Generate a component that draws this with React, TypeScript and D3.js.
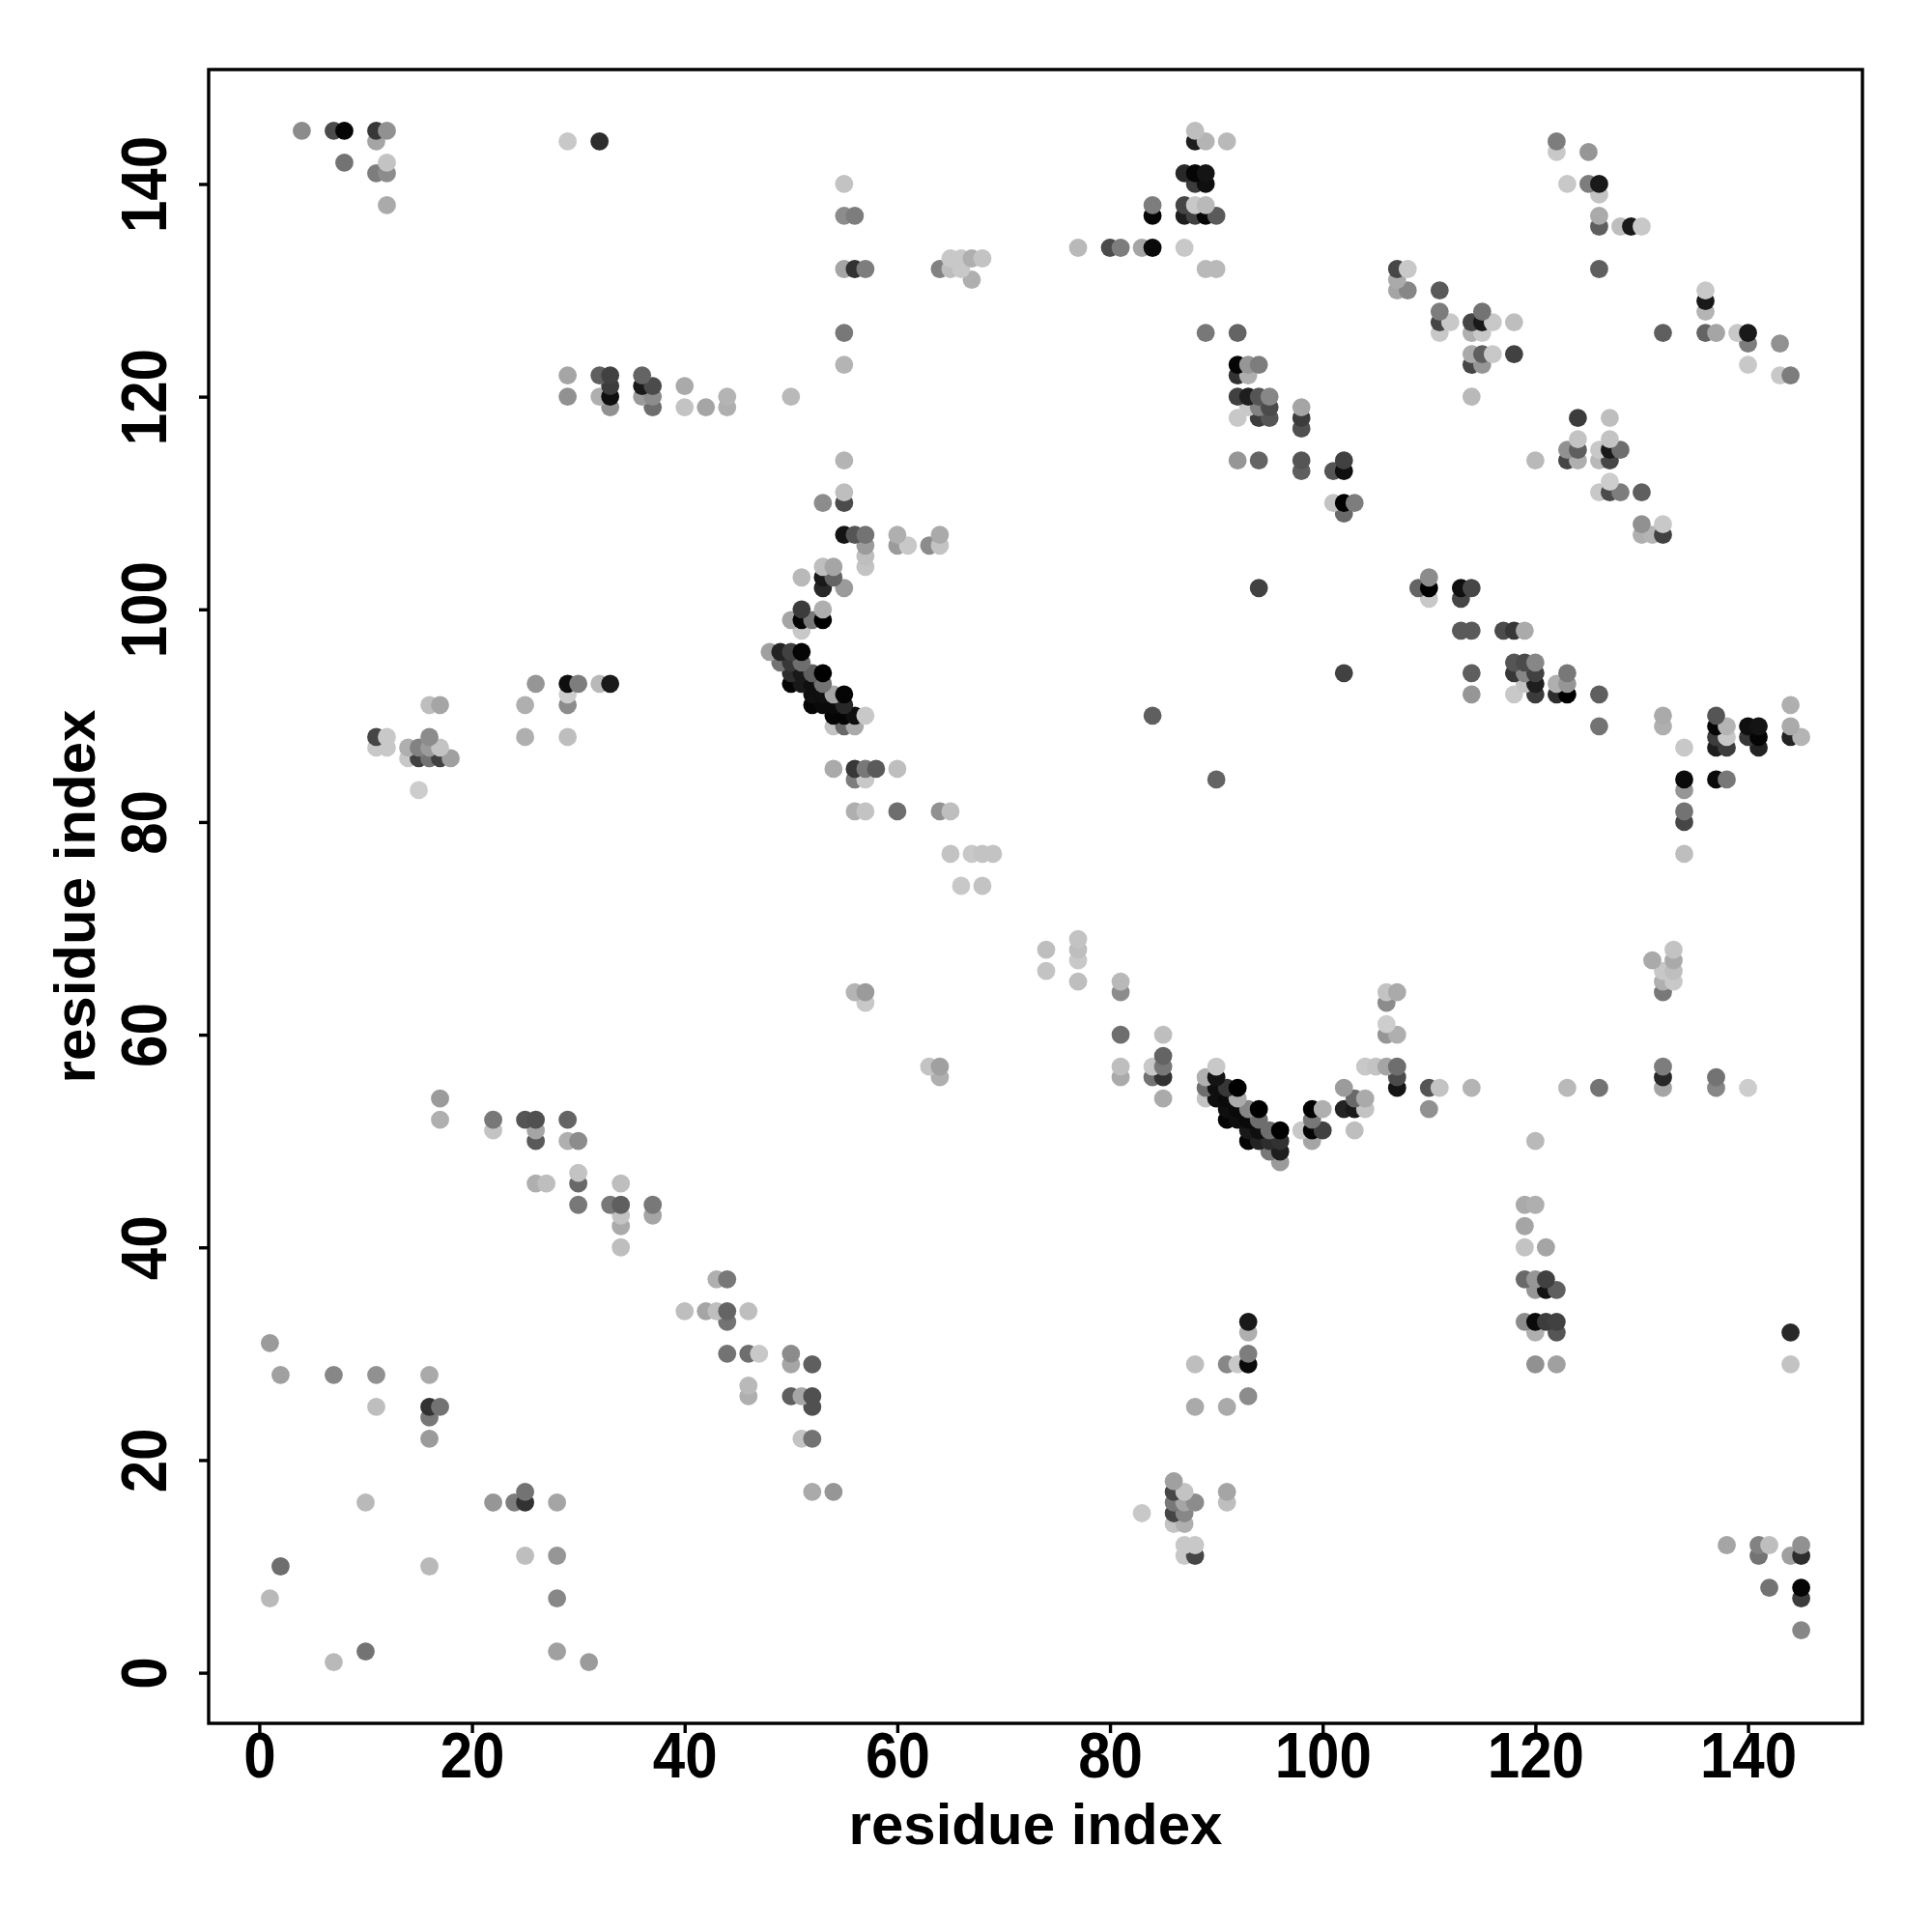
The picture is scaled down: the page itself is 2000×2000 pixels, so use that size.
import React, {useEffect, useRef} from "react";
import * as d3 from "d3";

type Contact = [number, number, number]; // residue x, residue y, grey level

const tickValues = [0, 20, 40, 60, 80, 100, 120, 140];
const xTitle = "residue index";
const yTitle = "residue index";

const upperLeft: Contact[] = [
    [4, 145, 140], [7, 145, 75], [8, 145, 5], [11, 145, 55], [12, 145, 145], [11, 144, 165],
    [8, 142, 115], [12, 142, 195], [11, 141, 125], [12, 141, 140], [12, 138, 170],
    [29, 144, 200], [32, 144, 45],
    [29, 122, 165], [29, 120, 145], [32, 122, 95], [33, 122, 65], [33, 121, 60], [32, 120, 175],
    [33, 120, 15], [33, 119, 145], [36, 122, 100], [36, 121, 25], [36, 120, 155], [37, 121, 75],
    [37, 120, 140], [37, 119, 110], [40, 121, 170], [40, 119, 195], [42, 119, 165], [44, 120, 180],
    [44, 119, 175],
];

const upperMiddle: Contact[] = [
    [88, 145, 190], [88, 144, 30], [89, 144, 180], [91, 144, 185],
    [87, 141, 40], [88, 141, 5], [89, 141, 20], [88, 140, 60], [89, 140, 15],
    [87, 138, 70], [88, 138, 200], [89, 138, 185], [87, 137, 30], [88, 137, 65], [89, 137, 5],
    [90, 137, 90], [84, 138, 125], [84, 137, 5],
    [77, 134, 185], [80, 134, 75], [81, 134, 125], [83, 134, 165], [84, 134, 10], [87, 134, 200],
    [89, 132, 185], [90, 132, 185],
    [55, 140, 195], [55, 137, 140], [56, 137, 125], [55, 132, 165], [56, 132, 50], [57, 132, 125],
    [64, 132, 130], [65, 133, 200], [65, 132, 190], [66, 133, 200], [66, 132, 200], [67, 133, 175],
    [68, 133, 195], [67, 131, 175],
    [55, 126, 120], [55, 123, 180], [50, 120, 185], [89, 126, 120], [92, 126, 100],
    [92, 123, 5], [93, 123, 150], [94, 123, 125], [92, 122, 50], [93, 122, 175],
    [92, 120, 65], [93, 120, 30], [94, 120, 85], [95, 120, 135], [93, 119, 200], [94, 119, 130],
    [95, 119, 75], [92, 118, 200], [94, 118, 60], [95, 118, 85],
    [92, 114, 150], [94, 114, 100], [94, 102, 65],
    [55, 114, 180], [55, 111, 190], [53, 110, 140], [55, 110, 75],
    [55, 107, 20], [56, 107, 85], [57, 107, 115], [57, 106, 155], [57, 105, 190], [57, 104, 195],
    [60, 107, 175], [60, 106, 155], [61, 106, 200], [63, 106, 140], [64, 107, 170], [64, 106, 195],
    [53, 104, 190], [54, 104, 165], [53, 103, 25], [54, 103, 100], [51, 103, 185], [53, 102, 40],
    [55, 102, 155], [51, 100, 60], [53, 100, 175], [50, 99, 165], [51, 99, 5], [52, 99, 120],
    [53, 99, 0], [51, 98, 200],
];

const upperRight: Contact[] = [
    [122, 144, 125], [122, 143, 200], [125, 143, 150], [123, 140, 200], [125, 140, 125],
    [126, 140, 25], [126, 139, 195], [126, 137, 170], [126, 136, 95], [128, 136, 190],
    [129, 136, 25], [130, 136, 200], [126, 132, 95],
    [107, 132, 70], [108, 132, 200], [107, 131, 170], [107, 130, 165], [108, 130, 135],
    [111, 130, 90], [111, 128, 125], [111, 127, 70], [112, 127, 200], [111, 126, 200],
    [115, 128, 115], [114, 127, 70], [115, 127, 25], [116, 127, 200], [114, 126, 175],
    [115, 126, 200], [118, 127, 190], [114, 124, 170], [115, 124, 95], [116, 124, 200],
    [114, 123, 70], [115, 123, 150], [118, 124, 65], [114, 120, 185],
    [136, 130, 200], [136, 129, 25], [136, 128, 180], [132, 126, 95], [136, 126, 100],
    [137, 126, 165], [139, 126, 200], [140, 126, 25], [140, 125, 125], [143, 125, 145],
    [140, 123, 200], [143, 122, 200], [144, 122, 125],
    [98, 119, 165], [98, 118, 60], [98, 117, 80], [98, 114, 85], [98, 113, 95],
    [102, 114, 65], [101, 113, 85], [102, 113, 15], [101, 110, 195], [102, 110, 0], [103, 110, 125],
    [102, 109, 105],
    [124, 118, 60], [127, 118, 190], [124, 116, 195], [127, 116, 195], [123, 115, 145],
    [124, 115, 95], [126, 115, 200], [127, 115, 25], [128, 115, 110], [123, 114, 70],
    [124, 114, 175], [126, 114, 185], [127, 114, 70], [120, 114, 185],
    [127, 112, 205], [126, 111, 200], [127, 111, 75], [128, 111, 125], [130, 111, 95],
    [130, 108, 145], [132, 108, 200], [130, 107, 175], [131, 107, 180], [132, 107, 65],
    [110, 103, 140], [109, 102, 100], [110, 102, 0], [110, 101, 200],
    [113, 102, 15], [114, 102, 70], [113, 101, 70],
    [113, 98, 90], [114, 98, 90], [117, 98, 75], [118, 98, 55], [119, 98, 170],
];

const middleLeft: Contact[] = [
    [26, 93, 150], [29, 93, 15], [30, 93, 125], [32, 93, 185], [33, 93, 25], [29, 92, 205],
    [29, 91, 140], [16, 91, 190], [17, 91, 165], [25, 91, 175], [25, 88, 175], [29, 88, 190],
    [11, 88, 70], [12, 88, 200], [11, 87, 200], [12, 87, 200], [16, 88, 140], [14, 87, 175],
    [15, 87, 130], [16, 87, 155], [17, 87, 195], [14, 86, 200], [15, 86, 65], [16, 86, 115],
    [17, 86, 65], [18, 86, 160], [15, 83, 205],
    [17, 54, 155], [17, 52, 175], [22, 52, 120], [22, 51, 195], [25, 52, 85], [26, 52, 80],
    [26, 51, 165], [26, 50, 90], [29, 52, 100], [29, 50, 175], [30, 50, 140],
];

const hairpinUpper: Contact[] = [
    [48, 96, 160], [49, 96, 35], [50, 96, 65], [51, 96, 5],
    [49, 95, 115], [50, 95, 55], [51, 95, 110],
    [50, 94, 45], [51, 94, 25], [52, 94, 95], [53, 94, 0],
    [50, 93, 5], [51, 93, 25], [52, 93, 15], [53, 93, 115],
    [52, 92, 15], [53, 92, 15], [54, 92, 165], [55, 92, 5],
    [52, 91, 5], [53, 91, 10], [54, 91, 10], [55, 91, 40],
    [54, 90, 5], [55, 90, 5], [56, 90, 15], [57, 90, 200],
    [54, 89, 195], [55, 89, 105], [56, 89, 170],
];

const middleCentre: Contact[] = [
    [54, 85, 170], [56, 85, 55], [57, 85, 120], [58, 85, 90], [60, 85, 190], [56, 84, 125],
    [57, 84, 200], [56, 81, 175], [57, 81, 195], [60, 81, 110], [64, 81, 145], [65, 81, 190],
    [65, 77, 195], [67, 77, 200], [68, 77, 195], [69, 77, 195], [66, 74, 200], [68, 74, 195],
    [84, 90, 95], [90, 84, 100],
    [74, 68, 190], [74, 66, 195], [77, 69, 195], [77, 68, 190], [77, 67, 200], [77, 65, 190],
    [81, 65, 185], [81, 64, 140], [81, 60, 110], [85, 60, 190], [85, 58, 100], [85, 57, 120],
    [84, 57, 200], [84, 56, 115], [85, 56, 50], [85, 54, 170], [81, 57, 190], [81, 56, 170],
    [56, 64, 180], [57, 64, 155], [57, 63, 200], [63, 57, 195], [64, 57, 160], [64, 56, 175],
];

const hairpinLower: Contact[] = [
    [89, 56, 175], [89, 55, 110], [89, 54, 195],
    [90, 57, 200], [90, 56, 20], [90, 55, 15], [90, 54, 15],
    [91, 55, 55], [91, 54, 10], [91, 53, 15], [91, 52, 5],
    [92, 55, 0], [92, 54, 170], [92, 53, 10], [92, 52, 15],
    [93, 53, 135], [93, 52, 10], [93, 51, 25], [93, 50, 5],
    [94, 53, 0], [94, 52, 110], [94, 51, 15], [94, 50, 35],
    [95, 51, 110], [95, 50, 45], [95, 49, 120],
    [96, 51, 0], [96, 50, 50], [96, 49, 30], [96, 48, 155],
    [98, 51, 200], [99, 53, 0], [99, 52, 120], [99, 51, 5], [99, 50, 165], [100, 53, 175], [100, 51, 65],
];

const middleRight: Contact[] = [
    [102, 94, 65], [114, 94, 95], [114, 92, 150],
    [118, 95, 85], [119, 95, 75], [120, 95, 135], [118, 94, 55], [119, 94, 135], [120, 94, 65],
    [119, 93, 195], [120, 93, 30], [118, 92, 200], [120, 92, 60],
    [122, 93, 175], [123, 94, 120], [123, 93, 150], [122, 92, 45], [123, 92, 0],
    [126, 92, 95], [126, 89, 115], [132, 90, 170], [132, 89, 175], [134, 87, 200],
    [137, 90, 85], [137, 89, 5], [138, 89, 180], [137, 88, 60], [138, 88, 200], [137, 87, 30],
    [138, 87, 60], [140, 89, 15], [141, 89, 20], [140, 88, 55], [141, 88, 5], [141, 87, 35],
    [144, 91, 175], [144, 89, 170], [144, 88, 35], [145, 88, 180],
    [134, 84, 10], [134, 83, 150], [134, 81, 115], [134, 80, 70], [134, 77, 190],
    [137, 84, 10], [138, 84, 120],
    [131, 67, 170], [133, 68, 195], [133, 67, 170], [132, 66, 200], [133, 66, 190], [132, 65, 175],
    [133, 65, 200], [132, 64, 120],
    [132, 57, 125], [132, 56, 40], [132, 55, 165], [137, 56, 115], [137, 55, 135], [140, 55, 205],
    [123, 55, 185], [126, 55, 115], [114, 55, 180], [110, 55, 85], [111, 55, 195], [110, 53, 145],
    [106, 64, 195], [107, 64, 170], [106, 63, 140], [106, 61, 205], [106, 60, 150], [107, 60, 175],
    [104, 57, 200], [105, 57, 195], [106, 57, 165], [107, 57, 110], [107, 56, 75], [107, 55, 20],
    [102, 55, 155], [102, 53, 35], [103, 54, 105], [104, 54, 170], [103, 53, 25], [104, 53, 195],
    [103, 51, 190],
];

const lowerLeft: Contact[] = [
    [30, 47, 195], [30, 46, 105], [26, 46, 175], [27, 46, 190], [34, 46, 190],
    [30, 44, 120], [33, 44, 120], [34, 44, 95], [37, 44, 120], [34, 43, 195], [37, 43, 165],
    [34, 42, 170], [34, 40, 190], [43, 37, 175], [44, 37, 120],
    [40, 34, 190], [42, 34, 165], [43, 34, 190], [44, 34, 100], [46, 34, 190], [44, 33, 115],
    [44, 30, 115], [46, 30, 110], [46, 27, 185], [46, 26, 175],
    [1, 31, 155], [2, 28, 160], [7, 28, 135], [11, 28, 145], [16, 28, 170],
    [11, 25, 190], [16, 25, 50], [17, 25, 115], [16, 24, 120], [16, 22, 155],
    [10, 16, 185], [22, 16, 150], [24, 16, 125], [25, 16, 50], [25, 17, 115], [28, 16, 165],
    [25, 11, 190], [28, 11, 150], [2, 10, 110], [16, 10, 185], [1, 7, 185], [28, 7, 135],
    [10, 2, 115], [28, 2, 160], [7, 1, 185], [31, 1, 155],
];

const lowerMiddle: Contact[] = [
    [47, 30, 200], [50, 30, 140], [50, 29, 165], [52, 29, 95],
    [50, 26, 95], [51, 26, 165], [52, 26, 80], [52, 25, 80], [51, 22, 195], [52, 22, 115],
    [52, 17, 170], [54, 17, 150],
    [93, 33, 25], [93, 32, 175], [93, 30, 125], [93, 29, 10], [91, 29, 135], [92, 29, 200],
    [88, 29, 190], [93, 26, 140], [88, 25, 170], [91, 25, 170], [83, 15, 200],
    [86, 18, 160], [86, 17, 70], [86, 16, 120], [86, 15, 70], [86, 14, 195],
    [87, 17, 195], [87, 16, 165], [87, 15, 135], [87, 14, 175], [88, 16, 140],
    [91, 17, 165], [91, 16, 190], [87, 12, 200], [88, 12, 200], [87, 11, 200], [88, 11, 70],
];

const lowerRight: Contact[] = [
    [119, 44, 170], [120, 44, 175], [119, 42, 165], [119, 40, 195], [121, 40, 165],
    [119, 37, 105], [120, 37, 150], [121, 37, 65], [120, 36, 150], [121, 36, 20], [122, 36, 95],
    [119, 33, 140], [120, 33, 10], [121, 33, 60], [122, 33, 65], [120, 32, 175], [122, 32, 85],
    [120, 29, 145], [122, 29, 160], [120, 50, 185], [144, 32, 40], [144, 29, 195],
    [138, 12, 165], [141, 12, 130], [142, 12, 190], [141, 11, 115], [144, 11, 160], [145, 12, 145],
    [145, 11, 45], [142, 8, 115], [145, 8, 5], [145, 7, 60], [145, 4, 135],
];

const contacts: Contact[] = [
    ...upperLeft, ...upperMiddle, ...upperRight, ...middleLeft, ...hairpinUpper, ...middleCentre,
    ...hairpinLower, ...middleRight, ...lowerLeft, ...lowerMiddle, ...lowerRight,
];

const App: React.FC = () => {
    const svgRef = useRef<SVGSVGElement | null>(null);

    useEffect(() => {
        if (!svgRef.current) return;
        const svg = d3.select(svgRef.current);
        svg.selectAll("*").remove();

        const margin = {top: 72, right: 72, bottom: 216, left: 216};
        const width = 2000;
        const height = 2000;
        const lineWidth = 3.4;

        const x = d3.scaleLinear().domain([-4.76, 150.76]).range([margin.left, width - margin.right]);
        const y = d3.scaleLinear().domain([-4.76, 150.76]).range([height - margin.bottom, margin.top]);

        // later points sit on top: lower rows first, left to right
        const ordered = contacts.slice().sort((a, b) => d3.ascending(a[1], b[1]) || d3.ascending(a[0], b[0]));

        svg.append("g")
            .selectAll("circle")
            .data(ordered)
            .join("circle")
            .attr("cx", (d) => x(d[0]))
            .attr("cy", (d) => y(d[1]))
            .attr("r", 9.4)
            .attr("fill", (d) => d3.rgb(d[2], d[2], d[2]).formatHex());

        const xAxis = svg.append("g")
            .attr("transform", `translate(0,${height - margin.bottom})`)
            .call(d3.axisBottom(x).tickValues(tickValues).tickSize(10));
        const yAxis = svg.append("g")
            .attr("transform", `translate(${margin.left},0)`)
            .call(d3.axisLeft(y).tickValues(tickValues).tickSize(10));

        [xAxis, yAxis].forEach((axis) => {
            axis.select(".domain").remove();
            axis.selectAll(".tick line").attr("stroke", "#000").attr("stroke-width", lineWidth);
            axis.selectAll("text")
                .attr("font-family", "Liberation Sans")
                .attr("font-weight", "bold")
                .attr("font-size", 66)
                .attr("fill", "#000");
        });

        // tick digits are taller and narrower than the plain bold face
        xAxis.selectAll("text")
            .attr("transform", "scale(0.91,1)")
            .attr("y", 9);

        yAxis.selectAll("text")
            .attr("transform", "rotate(-90) scale(0.91,1)")
            .attr("x", 0)
            .attr("y", -44)
            .attr("dy", 0)
            .attr("text-anchor", "middle");

        svg.append("rect")
            .attr("x", margin.left)
            .attr("y", margin.top)
            .attr("width", width - margin.left - margin.right)
            .attr("height", height - margin.top - margin.bottom)
            .attr("fill", "none")
            .attr("stroke", "#000")
            .attr("stroke-width", lineWidth);

        svg.append("text")
            .attr("x", (margin.left + width - margin.right) / 2)
            .attr("y", 1909)
            .attr("text-anchor", "middle")
            .attr("font-family", "Liberation Sans")
            .attr("font-weight", "bold")
            .attr("font-size", 60)
            .text(xTitle);

        svg.append("text")
            .attr("transform", `translate(98,${(margin.top + height - margin.bottom) / 2}) rotate(-90)`)
            .attr("text-anchor", "middle")
            .attr("font-family", "Liberation Sans")
            .attr("font-weight", "bold")
            .attr("font-size", 60)
            .text(yTitle);
    }, []);

    return (
        <svg
            ref={svgRef}
            width={2000}
            height={2000}
            viewBox="0 0 2000 2000"
            style={{position: "absolute", top: 0, left: 0, background: "#fff"}}
        ></svg>
    );
};

export default App;
